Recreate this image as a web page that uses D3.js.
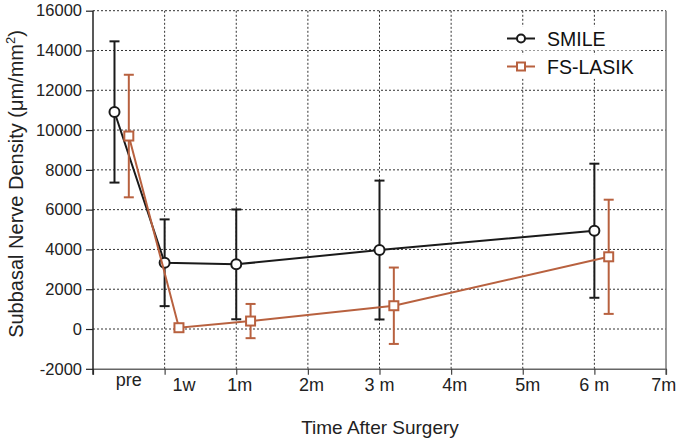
<!DOCTYPE html>
<html>
<head>
<meta charset="utf-8">
<script src="https://cdn.jsdelivr.net/npm/d3@7"></script>
<style>
  html, body { margin: 0; padding: 0; background: #fff; }
  svg { display: block; font-family: "Liberation Sans", Arial, sans-serif; }
</style>
</head>
<body>
<svg id="chart" width="684" height="442"></svg>
<script>
// ---- data ----
const timeLabels = ["pre", "1w", "1m", "3 m", "6 m"];
const timePos = [-0.7, 0, 1, 3, 6];           // position on the time axis
const smileMean = [10910, 3330, 3250, 3970, 4940];
const smileSD   = [3550, 2180, 2760, 3490, 3370];
const lasikMean = [9700, 65, 400, 1170, 3630];
const lasikSD   = [3080, 100, 860, 1920, 2870];
const yTicks = [-2000, 0, 2000, 4000, 6000, 8000, 10000, 12000, 14000, 16000];
const xTickValues = [-1, 0, 1, 2, 3, 4, 5, 6, 7];
const xTickLabels = [
  {text: "pre", at: -0.5},
  {text: "1w", at: 0.27},
  {text: "1m", at: 1.05},
  {text: "2m", at: 2.05},
  {text: "3 m", at: 3},
  {text: "4m", at: 4.05},
  {text: "5m", at: 5.07},
  {text: "6 m", at: 6},
  {text: "7m", at: 6.97}
];
const seriesNames = ["SMILE", "FS-LASIK"];

// ---- layout ----
const svg = d3.select("#chart");
const x = d3.scaleLinear().domain([-1, 7]).range([93, 666]);
const y = d3.scaleLinear().domain([-2000, 16000]).range([368.8, 10.7]);
const colors = {SMILE: "#1a1a1a", "FS-LASIK": "#b8613f"};
const dodge = {SMILE: 0, "FS-LASIK": 0.2};

// gridlines
const grid = svg.append("g");
grid.selectAll("line.h").data(yTicks.filter(d => d > -2000)).join("line")
  .attr("x1", x(-1)).attr("x2", x(7))
  .attr("y1", d => y(d)).attr("y2", d => y(d))
  .attr("stroke", "#333").attr("stroke-width", 1).attr("stroke-dasharray", "2,2");
grid.selectAll("line.v").data(xTickValues.filter(d => d > -1 && d < 7)).join("line")
  .attr("x1", d => x(d)).attr("x2", d => x(d))
  .attr("y1", y(-2000)).attr("y2", y(16000))
  .attr("stroke", "#333").attr("stroke-width", 1).attr("stroke-dasharray", "2,2");

// right border
svg.append("line").attr("x1", x(7)).attr("x2", x(7))
  .attr("y1", y(16000)).attr("y2", y(-2000) + 6)
  .attr("stroke", "#777").attr("stroke-width", 1.5);

// x axis
const xAxis = svg.append("g").attr("transform", `translate(0,${y(-2000)})`)
  .call(d3.axisBottom(x).tickValues(xTickValues).tickFormat("").tickSize(6).tickSizeOuter(0));
xAxis.select(".domain").attr("stroke", "#666").attr("stroke-width", 1.5);
xAxis.selectAll(".tick line").attr("stroke", "#444").attr("stroke-width", 1.2);

svg.append("g").selectAll("text").data(xTickLabels).join("text")
  .attr("x", d => x(d.at))
  .attr("y", d => d.text === "pre" ? 386 : 391)
  .attr("text-anchor", "middle")
  .attr("font-size", 18).attr("fill", "#222")
  .text(d => d.text);

// y axis
const yAxis = svg.append("g").attr("transform", `translate(${x(-1)},0)`)
  .call(d3.axisLeft(y).tickValues(yTicks).tickFormat(d => String(d)).tickSize(7).tickSizeOuter(0).tickPadding(4));
yAxis.select(".domain").attr("stroke", "#222").attr("stroke-width", 1.5)
  .attr("d", `M0,${y(16000)}V${y(-2000) + 6}`);
yAxis.selectAll(".tick line").attr("stroke", "#222").attr("stroke-width", 1.2);
yAxis.selectAll(".tick text").attr("font-size", 16.5).attr("fill", "#222")
  .attr("font-family", "Liberation Sans, Arial, sans-serif");

// axis titles
svg.append("text").attr("x", 380).attr("y", 434).attr("text-anchor", "middle")
  .attr("font-size", 19).attr("fill", "#222").text("Time After Surgery");
const yt = svg.append("text").attr("transform", "translate(23,184) rotate(-90)")
  .attr("text-anchor", "middle").attr("font-size", 20).attr("fill", "#222");
yt.append("tspan").text("Subbasal Nerve Density (\u03bcm/mm");
yt.append("tspan").attr("font-size", 13).attr("dy", -8).text("2");
yt.append("tspan").attr("dy", 8).text(")");

// series
const series = [
  {name: "SMILE", mean: smileMean, sd: smileSD, shape: "circle"},
  {name: "FS-LASIK", mean: lasikMean, sd: lasikSD, shape: "square"}
];
const line = d3.line().x(d => d.px).y(d => d.py);

series.forEach(s => {
  const c = colors[s.name];
  const pts = s.mean.map((m, i) => ({
    px: x(timePos[i] + dodge[s.name]),
    py: y(m),
    hi: y(m + s.sd[i]),
    lo: y(m - s.sd[i])
  }));
  const g = svg.append("g");
  // error bars
  const eb = g.selectAll("g.eb").data(pts).join("g");
  eb.append("line").attr("x1", d => d.px).attr("x2", d => d.px)
    .attr("y1", d => d.hi).attr("y2", d => d.lo)
    .attr("stroke", c).attr("stroke-width", 2);
  eb.append("line").attr("x1", d => d.px - 5).attr("x2", d => d.px + 5)
    .attr("y1", d => d.hi).attr("y2", d => d.hi)
    .attr("stroke", c).attr("stroke-width", 2);
  eb.append("line").attr("x1", d => d.px - 5).attr("x2", d => d.px + 5)
    .attr("y1", d => d.lo).attr("y2", d => d.lo)
    .attr("stroke", c).attr("stroke-width", 2);
  // line
  g.append("path").attr("d", line(pts)).attr("fill", "none")
    .attr("stroke", c).attr("stroke-width", 2);
  // markers
  if (s.shape === "circle") {
    g.selectAll("circle").data(pts).join("circle")
      .attr("cx", d => d.px).attr("cy", d => d.py).attr("r", 5)
      .attr("fill", "#fff").attr("stroke", c).attr("stroke-width", 2);
  } else {
    g.selectAll("rect").data(pts).join("rect")
      .attr("x", d => d.px - 4.5).attr("y", d => d.py - 4.5)
      .attr("width", 9).attr("height", 9)
      .attr("fill", "#fff").attr("stroke", c).attr("stroke-width", 2);
  }
});

// legend
const leg = svg.append("g");
seriesNames.forEach((name, i) => {
  const ly = 38.5 + i * 28;
  const c = colors[name];
  leg.append("rect").attr("x", 500).attr("y", ly - 12).attr("width", 140).attr("height", 24).attr("fill", "#fff");
  leg.append("line").attr("x1", 507).attr("x2", 535).attr("y1", ly).attr("y2", ly)
    .attr("stroke", c).attr("stroke-width", 2);
  if (i === 0) {
    leg.append("circle").attr("cx", 521).attr("cy", ly).attr("r", 4)
      .attr("fill", "#fff").attr("stroke", c).attr("stroke-width", 2);
  } else {
    leg.append("rect").attr("x", 517).attr("y", ly - 4).attr("width", 8).attr("height", 8)
      .attr("fill", "#fff").attr("stroke", c).attr("stroke-width", 2);
  }
  leg.append("text").attr("x", 547).attr("y", ly + 7).attr("font-size", 19.5)
    .attr("fill", "#111").text(name);
});
</script>
</body>
</html>
